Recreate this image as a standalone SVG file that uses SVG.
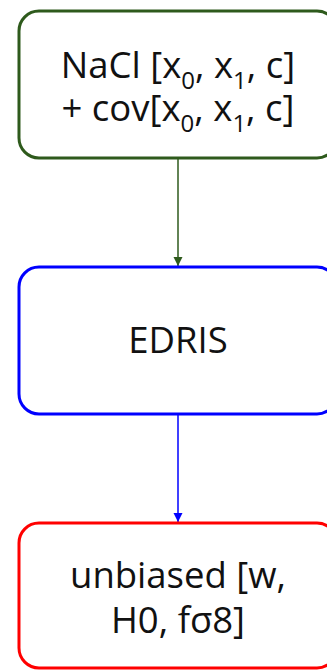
<svg xmlns="http://www.w3.org/2000/svg" width="327" height="670" viewBox="0 0 327 670">
  <defs>
    <style>
      .box { fill: #ffffff; stroke-width: 3; }
      .lbl { font-family: "Open Sans", "Noto Sans", sans-serif; font-size: 36.5px; fill: #111111; text-anchor: middle; }
      .sub { font-size: 24px; }
      .edge { fill: none; stroke-width: 1.5; }
    </style>
    <marker id="headGreen" viewBox="0 0 10 10" refX="10" refY="5" markerWidth="9" markerHeight="13" markerUnits="userSpaceOnUse" orient="auto">
      <path d="M0,0 L10,5 L0,10 z" fill="#2e5a1c"/>
    </marker>
    <marker id="headBlue" viewBox="0 0 10 10" refX="10" refY="5" markerWidth="9" markerHeight="13" markerUnits="userSpaceOnUse" orient="auto">
      <path d="M0,0 L10,5 L0,10 z" fill="#0000ff"/>
    </marker>
  </defs>

  <g id="connectors">
    <line class="edge" x1="178" y1="159" x2="178" y2="266" stroke="#2e5a1c" marker-end="url(#headGreen)"/>
    <line class="edge" x1="178" y1="415" x2="178" y2="522" stroke="#0000ff" marker-end="url(#headBlue)"/>
  </g>

  <g id="input">
    <rect class="box" x="19" y="11" width="318" height="147" rx="20" ry="20" stroke="#2e5a1c"/>
    <text class="lbl"><tspan x="178" y="78">NaCl [x</tspan><tspan class="sub" dy="11">0</tspan><tspan dy="-11">, x</tspan><tspan class="sub" dy="11">1</tspan><tspan dy="-11">, c]</tspan><tspan x="178" y="121">+ cov[x</tspan><tspan class="sub" dy="11">0</tspan><tspan dy="-11">, x</tspan><tspan class="sub" dy="11">1</tspan><tspan dy="-11">, c]</tspan></text>
  </g>

  <g id="edris">
    <rect class="box" x="19" y="267" width="318" height="147" rx="20" ry="20" stroke="#0000ff"/>
    <text class="lbl" x="178" y="353">EDRIS</text>
  </g>

  <g id="output">
    <rect class="box" x="19" y="523" width="318" height="145" rx="20" ry="20" stroke="#ff0000"/>
    <text class="lbl"><tspan x="178" y="588">unbiased [w,</tspan><tspan x="178" y="633">H0, fσ8]</tspan></text>
  </g>
</svg>
